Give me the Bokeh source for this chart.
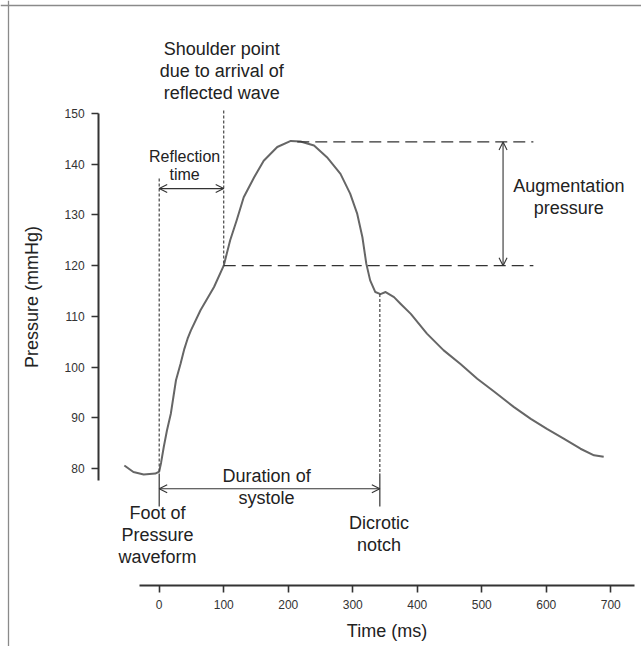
from bokeh.plotting import figure
from bokeh.models import Range1d, LinearAxis, FixedTicker, Arrow, OpenHead, Span
from bokeh.core.properties import value
from bokeh.embed import file_html
from bokeh.resources import INLINE

# ---- waveform ----
time_ms = [-54, -40, -24, -6, 0, 3, 7, 12, 18, 22, 26, 33, 39, 44, 49, 64, 85, 100, 110,
           120, 131, 147, 162, 183, 204, 219, 240, 260, 281, 296, 307, 315, 321, 327,
           335, 343, 351, 364, 374, 390, 415, 441, 467, 493, 519, 550, 576, 601, 627,
           653, 674, 689]
pressure_mmhg = [80.6, 79.3, 78.8, 79.0, 79.4, 81.2, 84.2, 87.5, 90.8, 94.1, 97.4, 100.6,
                 103.6, 105.6, 107.2, 111.2, 115.8, 120.0, 125.0, 128.9, 133.5, 137.4, 140.7,
                 143.4, 144.6, 144.5, 143.7, 141.4, 138.1, 134.2, 130.2, 125.6, 120.4,
                 117.1, 114.8, 114.4, 114.8, 113.8, 112.5, 110.5, 106.6, 103.3, 100.6,
                 97.7, 95.2, 92.1, 89.8, 87.8, 85.9, 83.9, 82.6, 82.3]

x_ticks = [0, 100, 200, 300, 400, 500, 600, 700]
y_ticks = [80, 90, 100, 110, 120, 130, 140, 150]

# ---- key points of the annotation ----
foot_time = 0
foot_pressure = 79.0
shoulder_time = 100
shoulder_pressure = 120.0
peak_time = 214
peak_pressure = 144.4
notch_time = 342
notch_pressure = 114.4
guide_end_time = 580
augmentation_arrow_time = 533
reflection_arrow_pressure = 135.2
systole_arrow_pressure = 76.0
foot_line_top = 137.2
shoulder_line_top = 150.6
systole_tick_bottom = 72.5

label_text = ["Shoulder point\ndue to arrival of\nreflected wave",
              "Augmentation\npressure",
              "Duration of\nsystole",
              "Foot of\nPressure\nwaveform",
              "Dicrotic\nnotch"]
label_x = [97, 635, 166.5, -2.6, 340.7]
label_y = [158.3, 133.6, 76.3, 66.8, 67.0]

# ---- frame / axes layout ----
W, H = 641, 646
X_MIN, X_MAX = -246.0, 747.6
Y_MIN, Y_MAX = 44.9, 172.29
Y_AXIS_AT = -94
X_AXIS_AT = 56.9
Y_AXIS_BOUNDS = (77.6, 150)
X_AXIS_BOUNDS = (-31, 736)
BORDER_LEFT_PX = 8
BORDER_TOP_PX = 5

FONT = "Liberation Sans"
INK = "#222222"

p = figure(width=W, height=H, x_range=Range1d(X_MIN, X_MAX), y_range=Range1d(Y_MIN, Y_MAX),
           x_axis_location=None, y_axis_location=None, toolbar_location=None,
           output_backend="svg", min_border=0)
p.outline_line_color = None
p.grid.visible = False
p.background_fill_color = "white"
p.border_fill_color = "white"

# gray frame of the original figure (top and left only)
px_x = (X_MAX - X_MIN) / W
px_y = (Y_MAX - Y_MIN) / H
p.add_layout(Span(location=X_MIN + BORDER_LEFT_PX * px_x, dimension="height",
                  line_color="#8a8a8a", line_width=1.3))
p.add_layout(Span(location=Y_MAX - BORDER_TOP_PX * px_y, dimension="width",
                  line_color="#8a8a8a", line_width=1.3))

def style_axis(ax):
    ax.axis_line_color = "#333333"
    ax.axis_line_width = 2
    ax.major_tick_line_color = "#333333"
    ax.major_tick_line_width = 1.6
    ax.major_tick_out = 7
    ax.major_tick_in = 0
    ax.minor_tick_line_color = None
    ax.major_label_text_font = FONT
    ax.major_label_text_font_size = "12px"
    ax.major_label_text_color = "#333333"
    ax.axis_label_text_font = FONT
    ax.axis_label_text_font_size = "18px"
    ax.axis_label_text_font_style = "normal"
    ax.axis_label_text_color = INK

yaxis = LinearAxis(fixed_location=Y_AXIS_AT, bounds=Y_AXIS_BOUNDS,
                   ticker=FixedTicker(ticks=y_ticks), axis_label="Pressure (mmHg)")
style_axis(yaxis)
yaxis.major_label_standoff = 7
yaxis.axis_label_standoff = 19
p.add_layout(yaxis, "left")

xaxis = LinearAxis(fixed_location=X_AXIS_AT, bounds=X_AXIS_BOUNDS,
                   ticker=FixedTicker(ticks=x_ticks), axis_label="Time (ms)")
style_axis(xaxis)
xaxis.major_label_standoff = 7
xaxis.axis_label_standoff = 9
p.add_layout(xaxis, "below")

# waveform
p.line(time_ms, pressure_mmhg, line_color="#666666", line_width=2.0, line_join="round")

# dotted verticals
p.segment(x0=[foot_time, shoulder_time, notch_time],
          y0=[foot_line_top, shoulder_line_top, notch_pressure],
          x1=[foot_time, shoulder_time, notch_time],
          y1=[foot_pressure, shoulder_pressure, foot_pressure],
          line_color="#444444", line_width=1.2, line_dash="3 2")

# solid ticks bounding the systole arrow
p.segment(x0=[foot_time, notch_time], y0=[foot_pressure, foot_pressure],
          x1=[foot_time, notch_time], y1=[systole_tick_bottom, systole_tick_bottom],
          line_color="#333333", line_width=1.2)

# dashed horizontals (shoulder & peak)
p.segment(x0=[shoulder_time, peak_time], y0=[shoulder_pressure, peak_pressure],
          x1=[guide_end_time, guide_end_time], y1=[shoulder_pressure, peak_pressure],
          line_color="#333333", line_width=1.2, line_dash="12 6")

def double_arrow(x0, y0, x1, y1):
    p.add_layout(Arrow(x_start=x0, y_start=y0, x_end=x1, y_end=y1,
                       start=OpenHead(size=8, line_width=1.1, line_color="#333333"),
                       end=OpenHead(size=8, line_width=1.1, line_color="#333333"),
                       line_color="#333333", line_width=1.1))

double_arrow(foot_time, reflection_arrow_pressure, shoulder_time, reflection_arrow_pressure)
double_arrow(augmentation_arrow_time, peak_pressure, augmentation_arrow_time, shoulder_pressure)
double_arrow(foot_time, systole_arrow_pressure, notch_time, systole_arrow_pressure)

# labels
p.text(x=label_x, y=label_y, text=label_text, text_align="center", text_baseline="middle",
       text_font=value(FONT), text_font_size="18px", text_color=INK, text_line_height=1.1)
p.text(x=[39.4], y=[139.75], text=["Reflection\ntime"], text_align="center",
       text_baseline="middle", text_font=value(FONT), text_font_size="16px",
       text_color=INK, text_line_height=1.1)

open("out.html", "w").write(file_html(p, INLINE))
